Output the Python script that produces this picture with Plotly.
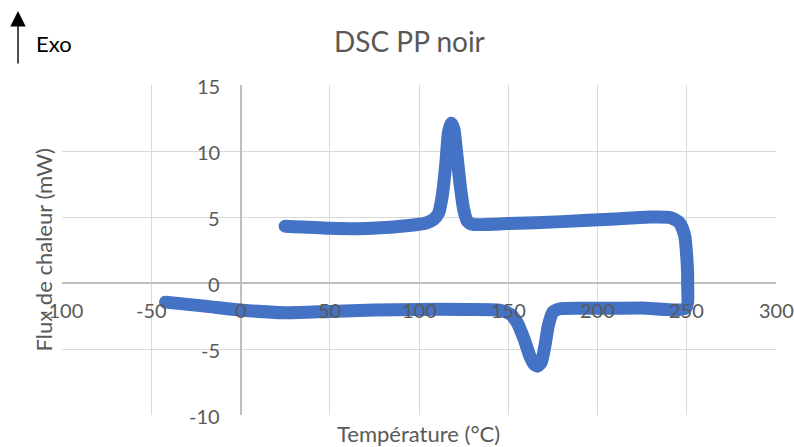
import plotly.graph_objects as go

# Heating run (endotherm / melting)
heat_temp = [-42, -20, 0, 25, 50, 75, 100, 125, 145, 151, 155, 159, 162, 164.5, 166.5, 168.5, 170.5, 172.5, 175, 179, 200, 225, 249.5]
heat_flux = [-1.45, -1.75, -2.05, -2.25, -2.15, -2.05, -2.0, -2.0, -2.05, -2.35, -3.0, -4.3, -5.5, -6.15, -6.3, -6.0, -4.8, -3.2, -2.2, -1.95, -1.92, -1.9, -1.9]

# Transition and cooling run (exotherm / crystallisation)
cool_temp = [250.5, 250, 248.8, 246, 241, 230, 210, 180, 150, 130, 127, 125, 123, 121, 119.5, 118, 116.5, 115, 113, 111, 108, 104, 100, 90, 70, 50, 25]
cool_flux = [0.0, 2.0, 3.6, 4.55, 4.95, 5.0, 4.85, 4.65, 4.5, 4.45, 4.7, 5.6, 7.5, 10.0, 11.7, 12.1, 11.4, 9.0, 6.6, 5.3, 4.8, 4.55, 4.45, 4.3, 4.12, 4.15, 4.3]

temperature = heat_temp + cool_temp
flux = heat_flux + cool_flux

x_ticks = [-100, -50, 0, 50, 100, 150, 200, 250, 300]
y_ticks = [-10, -5, 0, 5, 10, 15]

title_text = "DSC PP noir"
x_title = "Température (°C)"
y_title = "Flux de chaleur (mW)"
exo_label = "Exo"

FONT = "Lato"
GRAY = "#595959"

fig = go.Figure()
fig.add_trace(go.Scatter(
    x=temperature, y=flux, mode="lines",
    line=dict(color="#4472C4", width=13, shape="spline", smoothing=0.6),
    hoverinfo="skip", showlegend=False,
))

annotations = []
for t in x_ticks:
    annotations.append(dict(x=t, y=0, xref="x", yref="y", text=str(t), showarrow=False,
                            xanchor="center", yanchor="middle", yshift=-27,
                            font=dict(family=FONT, size=20, color=GRAY)))
for t in y_ticks:
    annotations.append(dict(x=0, y=t, xref="x", yref="y", text=str(t), showarrow=False,
                            xanchor="right", yanchor="middle", xshift=-19, yshift=-1,
                            font=dict(family=FONT, size=20, color=GRAY)))

annotations += [
    dict(x=0.487, y=1.133, xref="paper", yref="paper", text=title_text, showarrow=False,
         xanchor="center", yanchor="middle", font=dict(family=FONT, size=28, color=GRAY)),
    dict(x=0.499, y=-0.055, xref="paper", yref="paper", text=x_title, showarrow=False,
         xanchor="center", yanchor="middle", font=dict(family=FONT, size=22, color=GRAY)),
    dict(x=-0.026, y=0.5, xref="paper", yref="paper", text=y_title, showarrow=False,
         xanchor="center", yanchor="middle", textangle=-90,
         font=dict(family=FONT, size=22, color=GRAY)),
    dict(x=-0.0112, y=1.127, xref="paper", yref="paper", text=exo_label, showarrow=False,
         xanchor="center", yanchor="middle", font=dict(family=FONT, size=22, color="black")),
    dict(x=-0.0616, y=1.224, xref="paper", yref="paper", text="", showarrow=True,
         ax=0, ay=54, arrowhead=2, arrowsize=2.2, arrowwidth=1.4, arrowcolor="black"),
]

fig.update_layout(
    width=794, height=447,
    margin=dict(l=62, r=18, t=85, b=32),
    paper_bgcolor="white", plot_bgcolor="white",
    showlegend=False,
    annotations=annotations,
    xaxis=dict(range=[-100, 300], tickvals=x_ticks, showticklabels=False, ticks="",
               showgrid=True, gridcolor="#d9d9d9", gridwidth=1,
               zeroline=True, zerolinecolor="#bfbfbf", zerolinewidth=1.5, showline=False,
               fixedrange=True),
    yaxis=dict(range=[-10, 15], tickvals=y_ticks, showticklabels=False, ticks="",
               showgrid=True, gridcolor="#d9d9d9", gridwidth=1,
               zeroline=True, zerolinecolor="#bfbfbf", zerolinewidth=1.5, showline=False,
               fixedrange=True),
)

post = ("document.body.style.margin='0';document.body.style.padding='0';"
        "document.querySelectorAll('.scatterlayer .js-line').forEach(function(p){"
        "p.style.strokeLinecap='round';p.style.strokeLinejoin='round';});")
fig.write_html("out.html", post_script=post, config={"displayModeBar": False})
